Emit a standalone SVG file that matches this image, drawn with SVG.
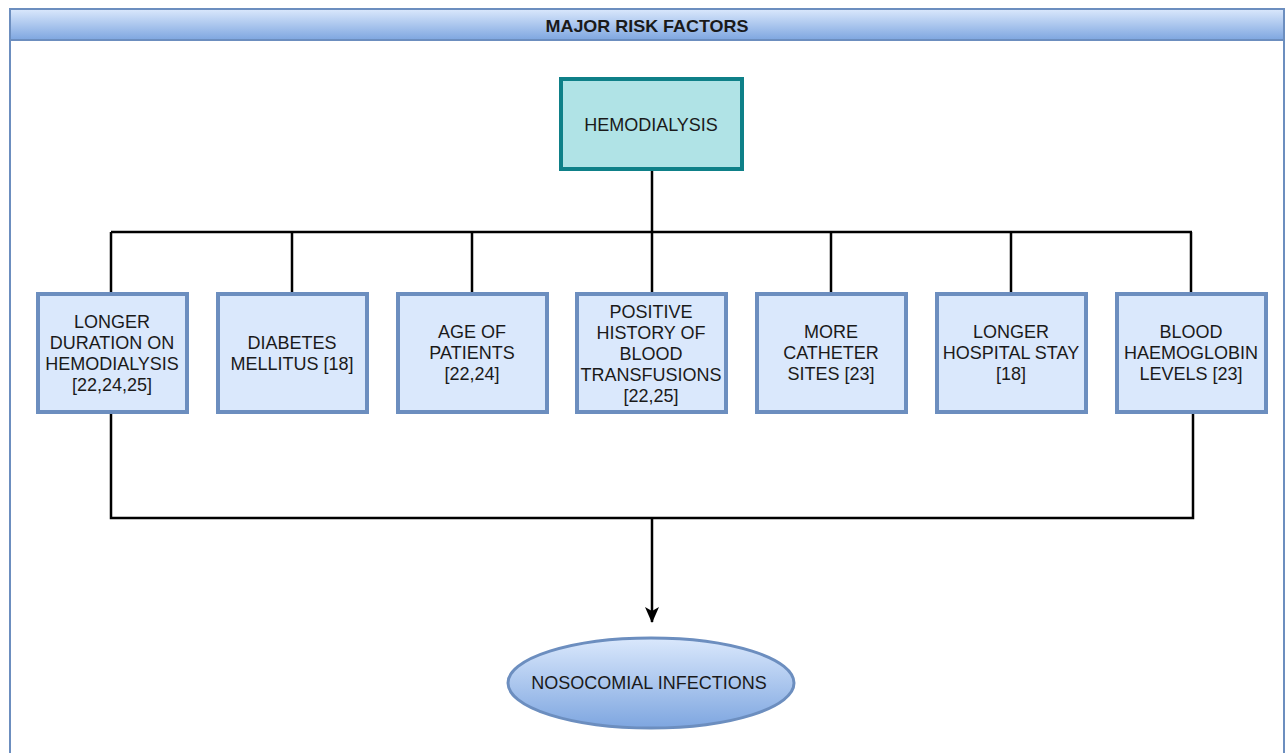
<svg xmlns="http://www.w3.org/2000/svg" width="1288" height="753" viewBox="0 0 1288 753">
<defs>
<linearGradient id="hdr" x1="0" y1="0" x2="0" y2="1"><stop offset="0" stop-color="#dae8fc"/><stop offset="1" stop-color="#7ea6e0"/></linearGradient>
<linearGradient id="ell" x1="0" y1="0" x2="0" y2="1"><stop offset="0" stop-color="#dae8fc"/><stop offset="1" stop-color="#7ea6e0"/></linearGradient>
<marker id="arr" viewBox="0 0 16 14" refX="15" refY="7" markerWidth="16" markerHeight="14" orient="auto" markerUnits="userSpaceOnUse"><path d="M0,0 L16,7 L0,14 L4,7 z" fill="#000"/></marker>
<style>
.t{font-family:"Liberation Sans",Arial,sans-serif;font-size:18px;fill:#1a1a1a;text-anchor:middle}
.box{fill:#dae8fc;stroke:#6c8ebf;stroke-width:4}
.ln{fill:none;stroke:#000;stroke-width:2.5}
</style>
</defs>
<rect x="0" y="0" width="1288" height="753" fill="#fff"/>
<g id="frame">
<rect x="10" y="9" width="1274" height="760" fill="#fff" stroke="#6c8ebf" stroke-width="2"/>
<rect x="10" y="9" width="1274" height="31" fill="url(#hdr)" stroke="#6c8ebf" stroke-width="2"/>
<text x="647" y="32" class="t" style="font-weight:bold;font-size:17px" textLength="203" lengthAdjust="spacingAndGlyphs">MAJOR RISK FACTORS</text>
</g>
<g id="connectors">
<path class="ln" d="M652,170 V232 M111,232 H1192 M111,232 V293 M292,232 V293 M472,232 V293 M652,232 V293 M831,232 V293 M1011,232 V293 M1191,232 V293"/>
<path class="ln" d="M111,413 V518 H1193 V413"/>
<path class="ln" d="M652,518 V622" marker-end="url(#arr)"/>
</g>
<g id="hemodialysis">
<rect x="561" y="79" width="181" height="90" fill="#b0e3e6" stroke="#0e8088" stroke-width="4"/>
<text x="651" y="131" class="t">HEMODIALYSIS</text>
</g>
<g id="n1"><rect class="box" x="38" y="294" width="149" height="118"/>
<text class="t" x="112" y="328">LONGER</text><text class="t" x="112" y="349">DURATION ON</text><text class="t" x="112" y="370">HEMODIALYSIS</text><text class="t" x="112" y="391">[22,24,25]</text></g>
<g id="n2"><rect class="box" x="218" y="294" width="149" height="118"/>
<text class="t" x="292" y="349">DIABETES</text><text class="t" x="292" y="370">MELLITUS [18]</text></g>
<g id="n3"><rect class="box" x="398" y="294" width="149" height="118"/>
<text class="t" x="472" y="338">AGE OF</text><text class="t" x="472" y="359">PATIENTS</text><text class="t" x="472" y="380">[22,24]</text></g>
<g id="n4"><rect class="box" x="577" y="294" width="149" height="118"/>
<text class="t" x="651" y="318">POSITIVE</text><text class="t" x="651" y="339">HISTORY OF</text><text class="t" x="651" y="360">BLOOD</text><text class="t" x="651" y="381">TRANSFUSIONS</text><text class="t" x="651" y="402">[22,25]</text></g>
<g id="n5"><rect class="box" x="757" y="294" width="149" height="118"/>
<text class="t" x="831" y="338">MORE</text><text class="t" x="831" y="359">CATHETER</text><text class="t" x="831" y="380">SITES [23]</text></g>
<g id="n6"><rect class="box" x="937" y="294" width="149" height="118"/>
<text class="t" x="1011" y="338">LONGER</text><text class="t" x="1011" y="359">HOSPITAL STAY</text><text class="t" x="1011" y="380">[18]</text></g>
<g id="n7"><rect class="box" x="1117" y="294" width="149" height="118"/>
<text class="t" x="1191" y="338">BLOOD</text><text class="t" x="1191" y="359">HAEMOGLOBIN</text><text class="t" x="1191" y="380">LEVELS [23]</text></g>
<g id="nosocomial">
<ellipse cx="651" cy="683" rx="143" ry="45" fill="url(#ell)" stroke="#6c8ebf" stroke-width="3"/>
<text class="t" x="649" y="689">NOSOCOMIAL INFECTIONS</text>
</g>
</svg>
